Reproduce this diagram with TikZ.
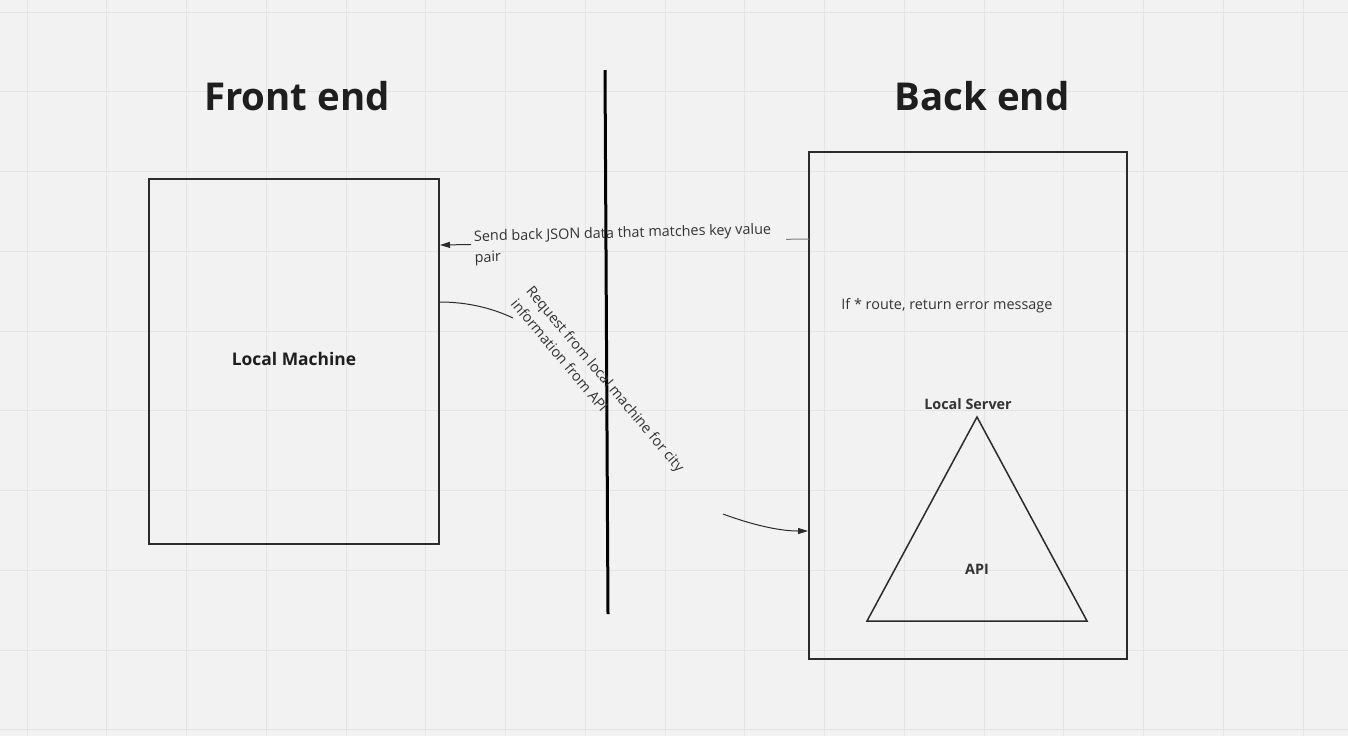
\documentclass[tikz,border=0pt]{standalone}
\usepackage{fontspec}
\setmainfont{Open Sans}
\usetikzlibrary{arrows.meta}
\definecolor{bg}{HTML}{F2F2F2}
\definecolor{gridc}{HTML}{E4E4E4}
\definecolor{ink}{HTML}{1E1E1E}
\definecolor{txt}{HTML}{333333}
\definecolor{edge}{HTML}{2B2B2B}
\tikzset{
  gridline/.style={gridc, line width=0.5pt},
  titletext/.style={font=\bfseries\fontsize{19.2}{23}\selectfont, text=ink, inner sep=0pt},
  boldlabel/.style={font=\bfseries\fontsize{7.2}{9}\selectfont, text=txt, inner sep=0pt},
  plainlabel/.style={font=\fontsize{7.2}{10.5}\selectfont, text=txt, inner sep=0pt, align=left},
  panel/.style={draw=edge, line width=0.75pt, inner sep=0pt},
  conn/.style={draw=edge, line width=0.5pt},
  tip/.style={-{Triangle[length=5pt,width=3pt]}}
}
\begin{document}
\begin{tikzpicture}[x=0.5pt,y=-0.5pt]
\fill[bg] (0,0) rectangle (1348,736);
\useasboundingbox (0,0) rectangle (1348,736);
\foreach \i in {0,...,16} \draw[gridline] ({27+79.75*\i},0) -- ++(0,736);
\foreach \j in {0,...,9} \draw[gridline] (0,{12+79.75*\j}) -- ++(1348,0);

% titles
\node[titletext] (fe) at (297,96) {Front end};
\node[titletext] (be) at (982,96) {Back end};

% divider
\coordinate (dtop) at (605,70);
\coordinate (dbot) at (608,614);
\draw[black, line width=1.5pt] (dtop) -- (dbot);

% boxes
\node[panel, minimum width=145pt, minimum height=182.5pt] (lm) at (294,361.5) {};
\node[font=\bfseries\fontsize{8.7}{11}\selectfont, text=ink, inner sep=0pt] (lmt) at (294,359) {Local Machine};
\node[panel, minimum width=159pt, minimum height=253.5pt] (srv) at (968,405.5) {};

\node[plainlabel, anchor=west] (err) at (841,306) {If * route, return error message};
\node[boldlabel] (ls) at (968,404) {Local Server};

% triangle
\coordinate (ta) at (977,417);
\coordinate (tl) at (867,621);
\coordinate (tr) at (1087,621);
\draw[edge, line width=0.75pt, line join=miter] (ta) -- (tl) -- (tr) -- cycle;
\node[boldlabel] (api) at (977,569) {API};

% send back connector
\coordinate (s0) at (809,239);
\coordinate (s1) at (786,239.3);
\coordinate (s2) at (471,244.5);
\coordinate (s3) at (440,245);
\draw[conn, draw=gray] (s0) -- (s1);
\draw[conn, tip] (s2) -- (s3);
\node[plainlabel, anchor=west, rotate=1.4] (sb) at (474,248) {Send back JSON data that matches key value\\pair};

% request connector
\coordinate (r0) at (440,302);
\coordinate (r1) at (513,318);
\coordinate (r2) at (723,514);
\coordinate (r3) at (808,531);
\draw[conn] (r0) .. controls (467,302) and (492,308) .. (r1);
\draw[conn, tip] (r2) .. controls (750,524) and (778,531) .. (r3);
\node[plainlabel, font=\fontsize{7.2}{10}\selectfont, anchor=north west, rotate=-50] (rq) at (534,284) {Request from local machine for city\\information from API};
\end{tikzpicture}
\end{document}
